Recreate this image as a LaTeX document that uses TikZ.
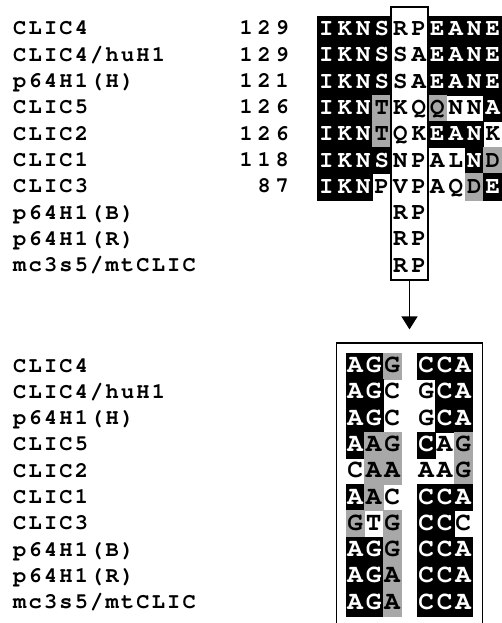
\documentclass[tikz,border=0pt]{standalone}
\usepackage{fontspec}
\newfontfamily\labfont[LetterSpace=10]{texgyrecursor-bold.otf}
\newfontfamily\numfont[LetterSpace=22]{texgyrecursor-bold.otf}
\newfontfamily\resfont{texgyrecursor-bold.otf}
\usepackage{tikz}
\usetikzlibrary{arrows.meta}
\definecolor{shade}{gray}{0.66}

\begin{document}
\begin{tikzpicture}[x=1pt,y=-1pt,
  lab/.style={anchor=west,inner sep=0pt,text height=12pt,text depth=0pt,font=\labfont\fontsize{22}{22}\selectfont},
  num/.style={anchor=east,inner sep=0pt,text height=12pt,text depth=0pt,font=\numfont\fontsize{22}{22}\selectfont},
  res/.style={minimum width=18.5pt,minimum height=26.3pt,inner sep=0pt,text height=13pt,text depth=0pt,font=\resfont\fontsize{24}{24}\selectfont},
  nuc/.style={res,font=\resfont\fontsize{26}{26}\selectfont},
  resb/.style={fill=black,draw=black,text=white},
  resg/.style={fill=shade,draw=shade},
  resw/.style={},
  box/.style={draw,line width=1.2pt,inner sep=0pt},
  arr/.style={line width=1.3pt,-{Triangle[length=13pt,width=16pt]},shorten >=13pt}]
\useasboundingbox (0,0) rectangle (501,623);

% protein alignment
\foreach \name [count=\i] in {CLIC4,CLIC4/huH1,p64H1(H),CLIC5,CLIC2,CLIC1,CLIC3,p64H1(B),p64H1(R),mc3s5/mtCLIC}
  \node[lab] (tl-\i) at (13,{29+26.3*(\i-1)}) {\name};
\foreach \n [count=\i] in {129,129,121,126,126,118,87}
  \node[num] (tn-\i) at (289,{29+26.3*(\i-1)}) {\n};
\foreach \seq [count=\i] in {
  {I/b,K/b,N/b,S/b,R/w,P/w,E/b,A/b,N/b,E/b},
  {I/b,K/b,N/b,S/b,S/w,A/w,E/b,A/b,N/b,E/b},
  {I/b,K/b,N/b,S/b,S/w,A/w,E/b,A/b,N/b,E/b},
  {I/b,K/b,N/b,T/g,K/w,Q/w,Q/g,N/w,N/w,A/b},
  {I/b,K/b,N/b,T/g,Q/w,K/w,E/b,A/b,N/b,K/w},
  {I/b,K/b,N/b,S/b,N/w,P/w,A/w,L/w,N/b,D/g},
  {I/b,K/b,N/b,P/w,V/w,P/w,A/w,Q/w,D/g,E/b}}
  \foreach \c/\s [count=\j] in \seq
    \node[res,res\s] (t-\i-\j) at ({317+18.5*(\j-0.5)},{29+26.3*(\i-1)}) {\c};
\foreach \i in {8,9,10} {
  \node[res] (t-\i-5) at (400.25,{29+26.3*(\i-1)}) {R};
  \node[res] (t-\i-6) at (418.75,{29+26.3*(\i-1)}) {P};
}
\node[box,minimum width=37pt,minimum height=273pt] (rpbox) at (409.5,143.5) {};

% nucleotide alignment
\foreach \name [count=\i] in {CLIC4,CLIC4/huH1,p64H1(H),CLIC5,CLIC2,CLIC1,CLIC3,p64H1(B),p64H1(R),mc3s5/mtCLIC}
  \node[lab] (ll-\i) at (13,{366+26.3*(\i-1)}) {\name};
\foreach \seq [count=\i] in {
  {A/b,G/b,G/g,C/b,C/b,A/b},
  {A/b,G/b,C/w,G/w,C/b,A/b},
  {A/b,G/b,C/w,G/w,C/b,A/b},
  {A/b,A/g,G/g,C/b,A/w,G/g},
  {C/w,A/g,A/g,A/w,A/w,G/g},
  {A/b,A/g,C/w,C/b,C/b,A/b},
  {G/g,T/w,G/g,C/b,C/b,C/w},
  {A/b,G/b,G/g,C/b,C/b,A/b},
  {A/b,G/b,A/g,C/b,C/b,A/b},
  {A/b,G/b,A/g,C/b,C/b,A/b}}
  \foreach \c/\s [count=\j] in \seq
    \node[nuc,res\s] (n-\i-\j) at ({355.25+18.5*(\j-1)+15.5*(\j>3)},{366+26.3*(\i-1)}) {\c};
\node[box,minimum width=146pt,minimum height=290pt] (dnabox) at (409.5,488) {};

\draw[arr] (rpbox.south) -- (dnabox.north);
\end{tikzpicture}
\end{document}
